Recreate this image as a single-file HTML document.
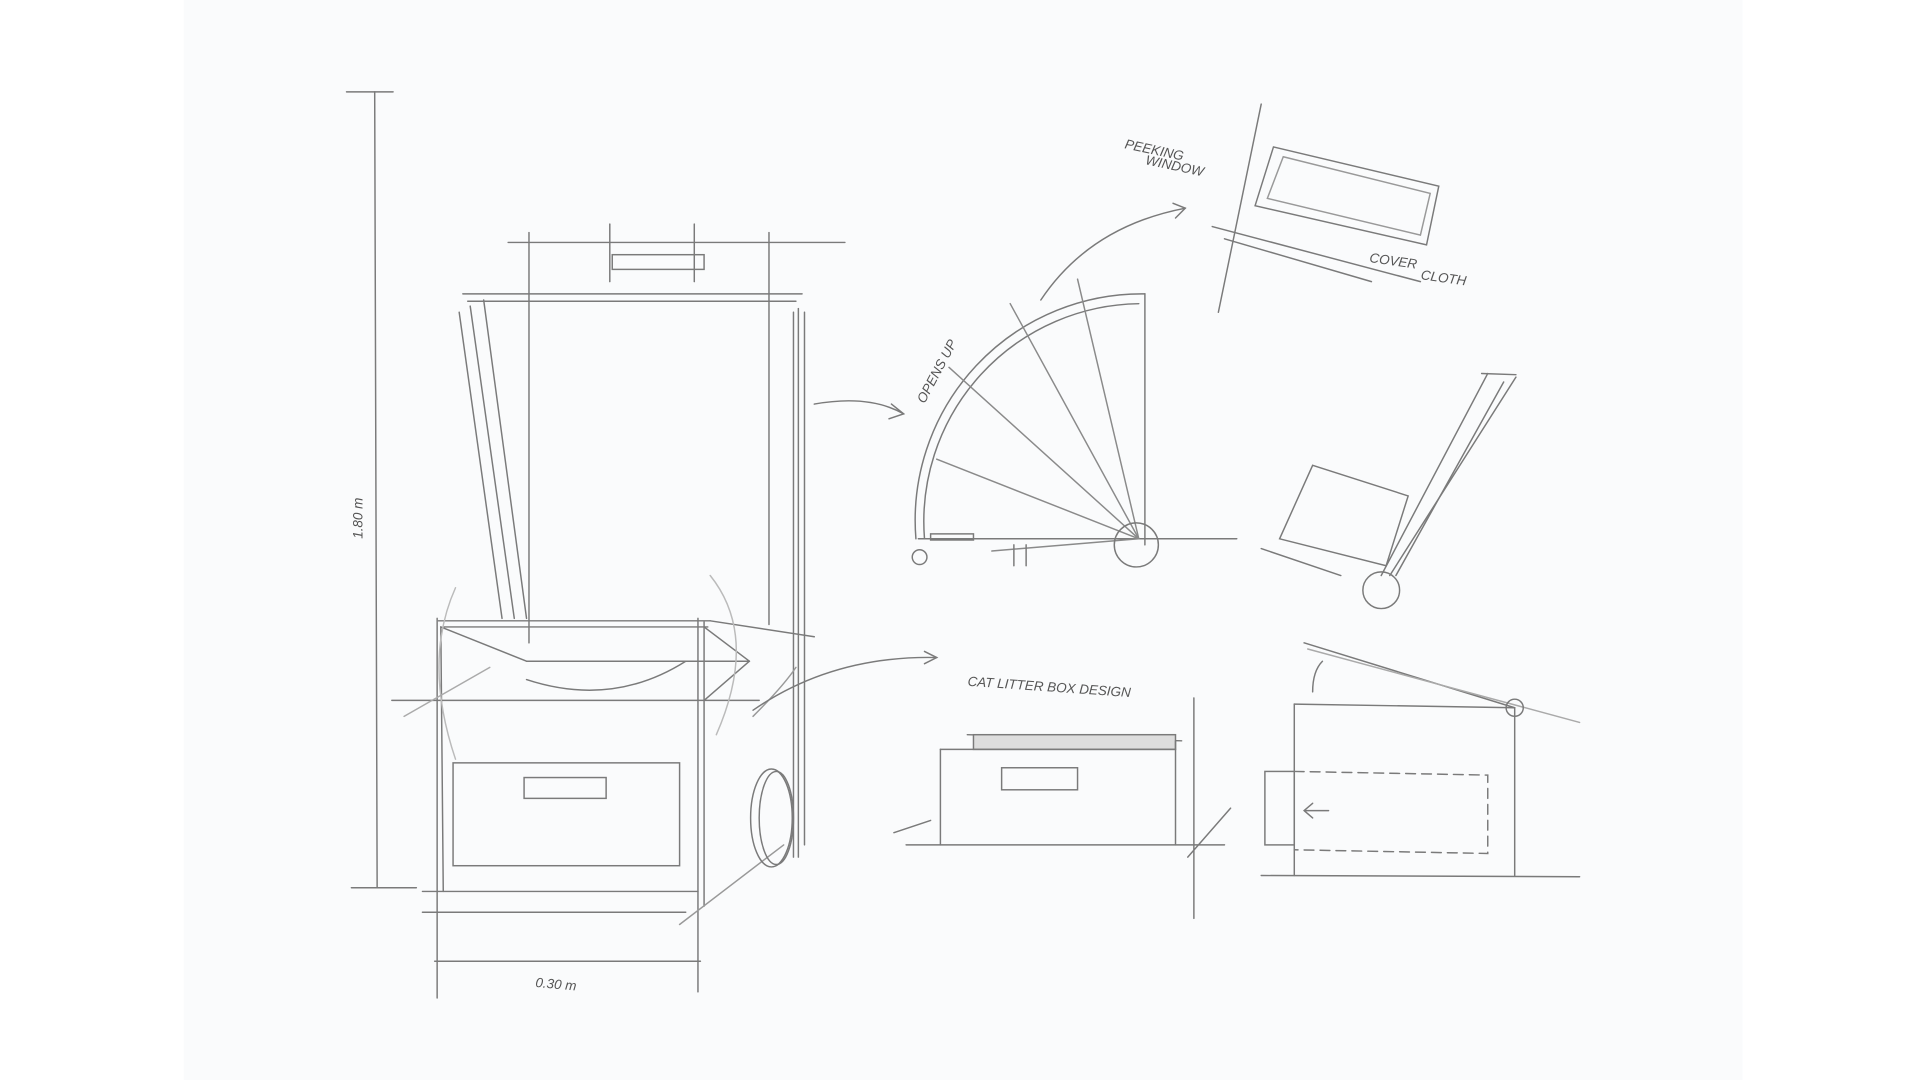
<!DOCTYPE html>
<html><head><meta charset="utf-8"><style>
html,body{margin:0;padding:0;background:#fff;width:1920px;height:1080px;overflow:hidden}
svg{display:block}
text{font-family:"Liberation Sans",sans-serif;fill:#555;font-style:italic}
</style></head><body>
<svg width="1920" height="1080" viewBox="0 0 1568 882" preserveAspectRatio="none" xmlns="http://www.w3.org/2000/svg">
<rect x="150" y="0" width="1273" height="882" fill="#fafbfc"/>
<g stroke="#7a7a7a" stroke-width="1.2" fill="none" stroke-linecap="round">
<!-- height dimension -->
<line x1="283" y1="75" x2="321" y2="75"/>
<line x1="306" y1="75" x2="308" y2="725"/>
<line x1="287" y1="725" x2="340" y2="725"/>
<!-- width dimension -->
<line x1="357" y1="505" x2="357" y2="815"/>
<line x1="570" y1="505" x2="570" y2="810"/>
<line x1="355" y1="785" x2="572" y2="785"/>
<!-- base box -->
<line x1="358" y1="507" x2="580" y2="507"/>
<line x1="362" y1="512" x2="578" y2="512"/>
<line x1="580" y1="507" x2="665" y2="520"/>
<line x1="360" y1="512" x2="430" y2="540"/>
<line x1="430" y1="540" x2="612" y2="540"/>
<line x1="575" y1="512" x2="612" y2="540"/>
<line x1="612" y1="540" x2="575" y2="572"/>
<line x1="360" y1="512" x2="362" y2="728"/>
<line x1="575" y1="508" x2="575" y2="740"/>
<line x1="320" y1="572" x2="620" y2="572"/>
<line x1="345" y1="728" x2="570" y2="728"/>
<line x1="345" y1="745" x2="560" y2="745"/>
<rect x="370" y="623" width="185" height="84"/>
<rect x="428" y="635" width="67" height="17"/>
<path d="M430 555 Q500 578 560 540"/>
<path d="M372 480 Q345 540 372 620" stroke="#bbb"/>
<path d="M580 470 Q620 520 585 600" stroke="#bbb"/>
<line x1="555" y1="755" x2="640" y2="690" stroke="#999"/>
<line x1="330" y1="585" x2="400" y2="545" stroke="#aaa"/>
<!-- tall panel -->
<line x1="415" y1="198" x2="690" y2="198"/>
<line x1="378" y1="240" x2="655" y2="240"/>
<line x1="382" y1="246" x2="650" y2="246"/>
<line x1="432" y1="190" x2="432" y2="525"/>
<line x1="628" y1="190" x2="628" y2="510"/>
<line x1="375" y1="255" x2="410" y2="505"/>
<line x1="384" y1="250" x2="420" y2="505"/>
<line x1="395" y1="245" x2="430" y2="505"/>
<line x1="648" y1="255" x2="648" y2="700"/>
<line x1="652" y1="252" x2="652" y2="700"/>
<line x1="657" y1="255" x2="657" y2="690"/>
<line x1="498" y1="183" x2="498" y2="230"/>
<line x1="567" y1="183" x2="567" y2="230"/>
<rect x="500" y="208" width="75" height="12"/>
<ellipse cx="630" cy="668" rx="17" ry="40"/>
<ellipse cx="634" cy="668" rx="14" ry="38"/>
<path d="M615 585 Q640 560 650 545" stroke="#999"/>
<!-- arrows middle -->
<path d="M665 330 Q710 322 738 338"/><path d="M728 330 L738 338 L726 342"/>
<path d="M850 245 Q890 185 968 170"/><path d="M958 166 L968 170 L960 178"/>
<path d="M615 580 Q680 535 765 537"/><path d="M755 532 L765 537 L755 542"/>
<!-- quarter circle -->
<path d="M748 440 A185 185 0 0 1 935 240"/>
<path d="M755 440 A178 178 0 0 1 930 248"/>
<line x1="750" y1="440" x2="1010" y2="440"/>
<line x1="935" y1="240" x2="935" y2="445"/>
<g stroke="#8a8a8a">
<line x1="930" y1="440" x2="880" y2="228"/>
<line x1="930" y1="440" x2="825" y2="248"/>
<line x1="930" y1="440" x2="775" y2="300"/>
<line x1="930" y1="440" x2="765" y2="375"/>
<line x1="930" y1="440" x2="810" y2="450"/>
</g>
<rect x="760" y="436" width="35" height="5"/>
<line x1="828" y1="445" x2="828" y2="462"/><line x1="838" y1="445" x2="838" y2="462"/>
<circle cx="751" cy="455" r="6"/>
<circle cx="928" cy="445" r="18"/>
<!-- peeking window -->
<line x1="1030" y1="85" x2="995" y2="255"/>
<line x1="990" y1="185" x2="1160" y2="230"/>
<line x1="1000" y1="195" x2="1120" y2="230"/>
<path d="M1040 120 L1175 152 L1165 200 L1025 168 Z"/>
<path d="M1048 128 L1168 158 L1160 192 L1035 162 Z" stroke="#999"/>
<!-- cart -->
<circle cx="1128" cy="482" r="15"/>
<line x1="1128" y1="470" x2="1215" y2="305"/>
<line x1="1135" y1="470" x2="1238" y2="308"/>
<line x1="1140" y1="470" x2="1228" y2="312"/>
<line x1="1210" y1="305" x2="1238" y2="306"/>
<path d="M1072 380 L1150 405 L1132 462 L1045 440 Z"/>
<line x1="1030" y1="448" x2="1095" y2="470"/>
<!-- litter box -->
<line x1="790" y1="600" x2="965" y2="605"/>
<rect x="795" y="600" width="165" height="12" fill="#ddd"/>
<line x1="768" y1="612" x2="960" y2="612"/>
<line x1="768" y1="612" x2="768" y2="690"/>
<line x1="960" y1="605" x2="960" y2="690"/>
<line x1="740" y1="690" x2="1000" y2="690"/>
<line x1="975" y1="570" x2="975" y2="750"/>
<line x1="730" y1="680" x2="760" y2="670"/>
<line x1="970" y1="700" x2="1005" y2="660"/>
<rect x="818" y="627" width="62" height="18"/>
<!-- right box -->
<line x1="1057" y1="575" x2="1237" y2="578"/>
<line x1="1057" y1="575" x2="1057" y2="715"/>
<line x1="1237" y1="578" x2="1237" y2="715"/>
<line x1="1030" y1="715" x2="1290" y2="716"/>
<line x1="1065" y1="525" x2="1237" y2="578"/>
<line x1="1068" y1="530" x2="1290" y2="590" stroke="#aaa"/>
<circle cx="1237" cy="578" r="7"/>
<path d="M1072 565 Q1072 548 1080 540"/>
<rect x="1033" y="630" width="24" height="60"/>
<path d="M1057 630 L1215 633 L1215 697 L1057 694" stroke-dasharray="8 5"/>
<path d="M1085 662 L1065 662 M1072 656 L1065 662 L1072 668"/>
</g>
<g font-size="11">
<text x="296" y="440" transform="rotate(-90 296 440)">1.80 m</text>
<text x="437" y="806" transform="rotate(5 437 806)">0.30 m</text>
<text x="755" y="330" transform="rotate(-62 755 330)">OPENS UP</text>
<text x="918" y="121" transform="rotate(12 918 121)">PEEKING</text>
<text x="935" y="134" transform="rotate(12 935 134)">WINDOW</text>
<text x="1118" y="214" transform="rotate(8 1118 214)">COVER</text>
<text x="1160" y="228" transform="rotate(8 1160 228)">CLOTH</text>
<text x="790" y="560" transform="rotate(4 790 560)">CAT LITTER BOX DESIGN</text>
</g>
</svg>
</body></html>
